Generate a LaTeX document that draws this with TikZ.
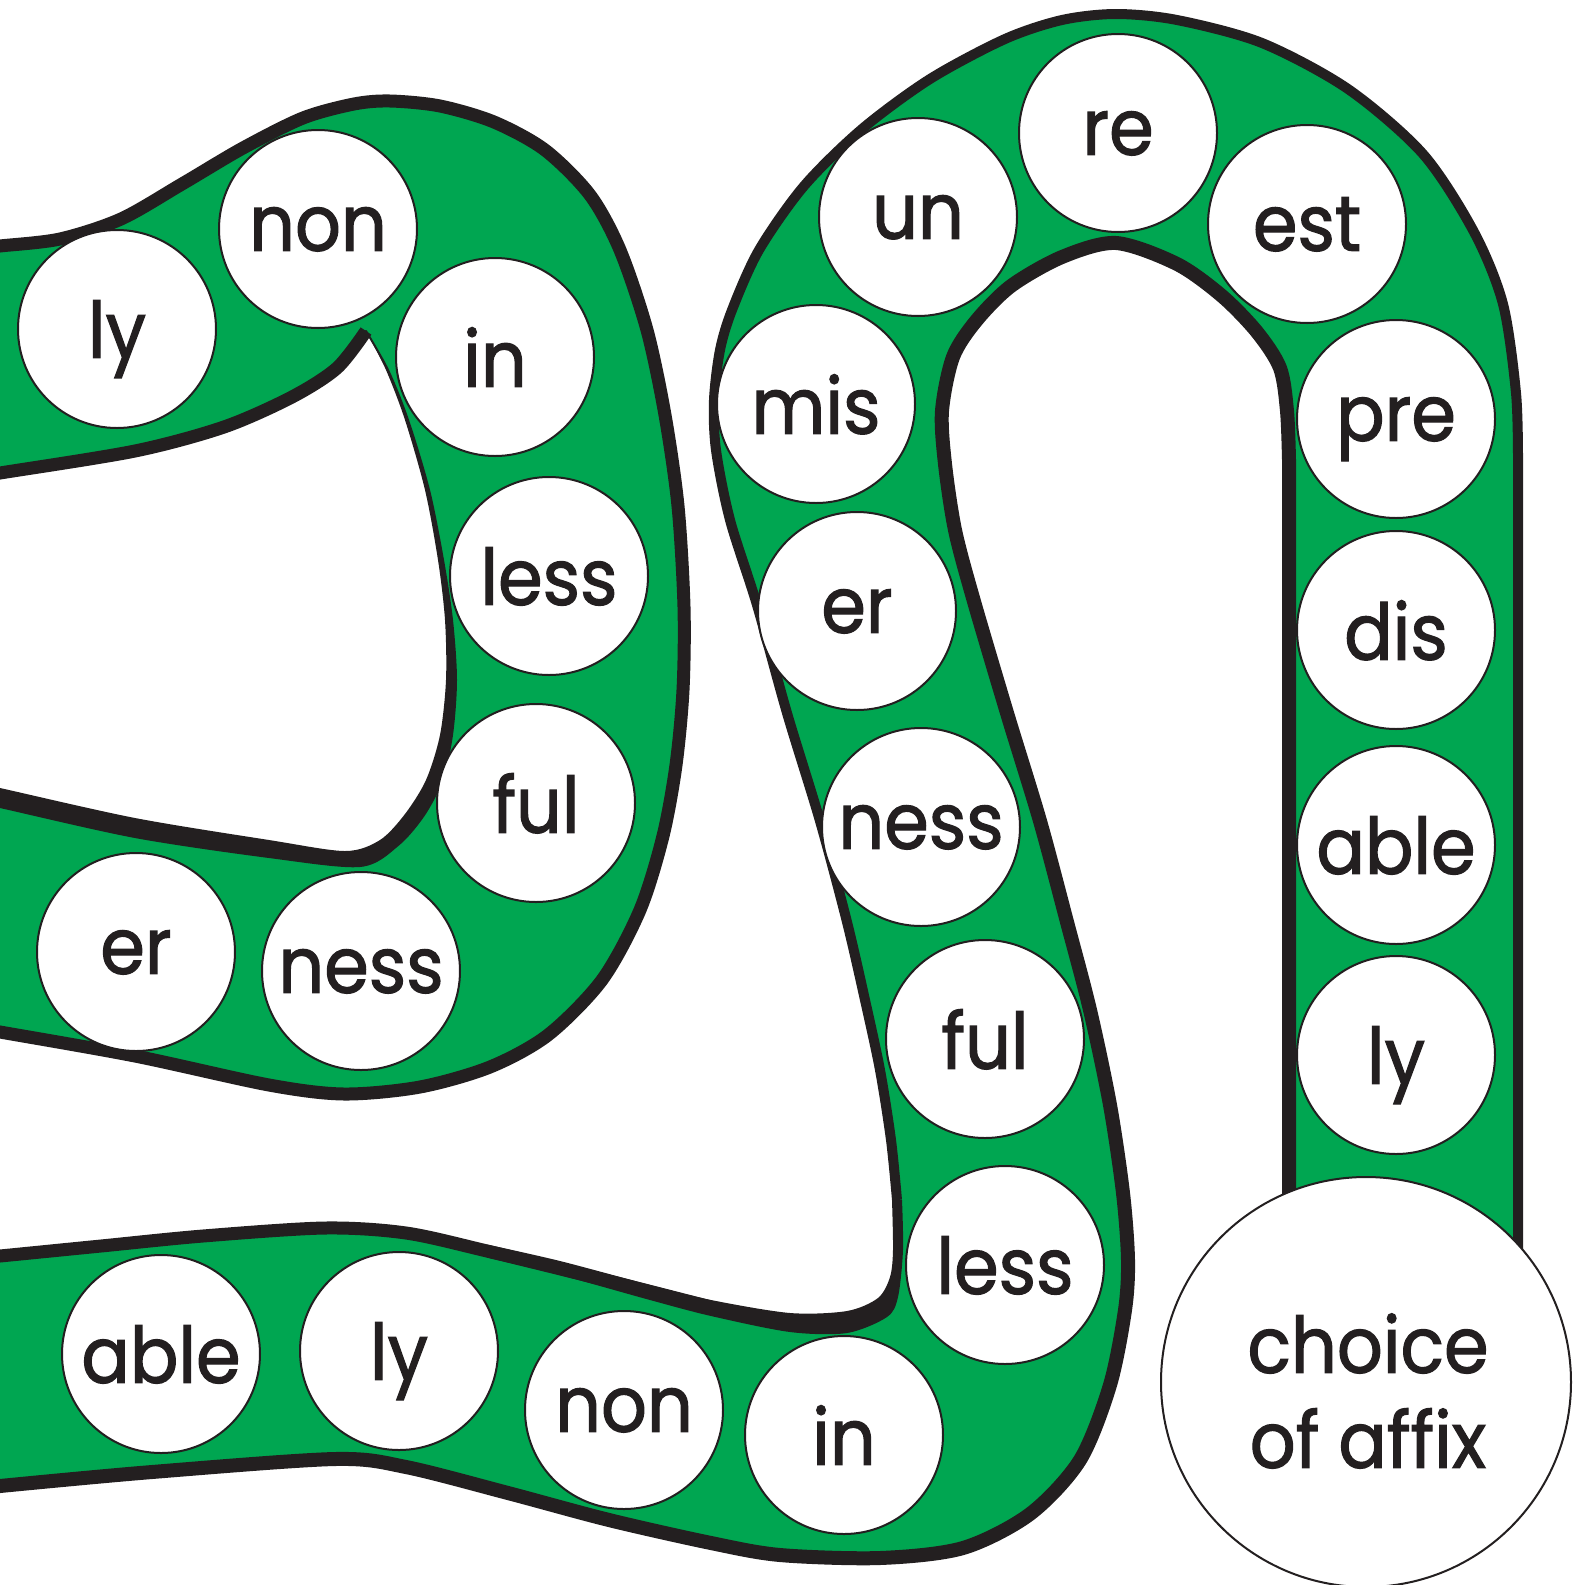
\documentclass[tikz,border=0pt]{standalone}
\usepackage{fontspec}
\newfontfamily\gamefont[FakeStretch=0.92,FakeBold=1.5]{Poppins}
\definecolor{bandgreen}{RGB}{0,166,81}
\definecolor{ink}{RGB}{35,31,32}
\begin{document}
\begin{tikzpicture}[x=1pt,y=-1pt,
  spot/.style={circle, draw=ink, fill=white, line width=2pt, minimum size=198pt, inner sep=0pt,
    font=\gamefont\fontsize{78}{94}\selectfont, text=ink, text depth=0pt},
  band/.style={fill=bandgreen, draw=ink, line width=2pt, line join=round},
  rim/.style={draw=ink, line width=13pt, line join=round, line cap=round}]
\useasboundingbox (0,0) rectangle (1583,1585);
\clip (0,0) rectangle (1583,1585);
% ---------- piece A (upper left loop) ----------
\path[band] plot[smooth] coordinates {(-12,248) (0,246) (60,239) (121,219) (182,184) (243,148) (303,118) (354,104) (390,101) (440,106) (494,122) (545,150) (590,195) (620,250) (647,330) (665,415) (678,506) (684,607) (683,690) (676,765) (663,836) (640,910) (602,980) (548,1035) (490,1067) (420,1087) (344,1094) (269,1085) (135,1056) (0,1032) (-12,1030)}
  -- plot[smooth] coordinates {(-12,805) (0,807) (135,837) (269,857) (360,866) (398,845) (424,815) (442,780) (452,735) (456,680) (452,620) (443,560) (429,490) (408,420) (388,370) (366,331)}
  -- plot[smooth] coordinates {(366,331) (337,368) (292,397) (224,427) (135,451) (0,473) (-12,475)} -- cycle;
\draw[rim] plot[smooth] coordinates {(-12,248) (0,246) (60,239) (121,219) (182,184) (243,148) (303,118) (354,104) (390,101) (440,106) (494,122) (545,150) (590,195) (620,250) (647,330) (665,415) (678,506) (684,607) (683,690) (676,765) (663,836) (640,910) (602,980) (548,1035) (490,1067) (420,1087) (344,1094) (269,1085) (135,1056) (0,1032) (-12,1030)};
\draw[rim, line cap=butt] plot[smooth] coordinates {(-12,475) (0,473) (135,451) (224,427) (292,397) (337,368) (366,331)};
\fill[ink] plot[smooth] coordinates {(-12,786) (0,788) (135,818) (269,840) (345,851) (380,840) (405,814) (426,780) (440,735) (446,680) (445,620) (438,560) (425,490) (405,420) (386,370) (366,331)}
  -- plot[smooth] coordinates {(366,331) (388,370) (408,420) (429,490) (443,560) (452,620) (456,680) (452,735) (442,780) (424,815) (398,845) (360,866) (269,857) (135,837) (0,807) (-12,805)} -- cycle;
% ---------- piece B (long path) ----------
\path[band] plot[smooth] coordinates {(-12,1257) (0,1256) (101,1246) (203,1236) (325,1228) (406,1233) (487,1251) (609,1281) (711,1307) (790,1321) (845,1321) (877,1309) (891,1290) (898,1255) (897,1200) (891,1140) (880,1070) (865,1000) (847,922) (820,821) (787,713) (757,605) (730,520) (716,450) (714,400) (720,350) (732,310) (759,250) (804,186) (862,129) (930,79) (1005,39) (1062,20) (1116,14) (1177,20) (1262,43) (1348,89) (1423,154) (1474,232) (1503,304) (1516,393) (1518,460)}
  -- (1518,1250) -- (1289,1195) -- (1289,460)
  -- plot[smooth] coordinates {(1289,460) (1287,411) (1280,368) (1257,332) (1222,296) (1177,264) (1116,243) (1062,257) (1011,286) (976,321) (953,357) (942,411) (945,464) (955,530) (973,598) (1007,713) (1040,821) (1067,922) (1090,1010) (1110,1105) (1123,1193) (1128,1260) (1125,1310) (1110,1385) (1080,1460) (1030,1514) (963,1548) (880,1558) (780,1555) (711,1543) (609,1520) (508,1493) (406,1467) (335,1459) (152,1472) (0,1486) (-12,1488)} -- cycle;
\draw[rim] plot[smooth] coordinates {(-12,1257) (0,1256) (101,1246) (203,1236) (325,1228) (406,1233) (487,1251) (609,1281) (711,1307)};
\fill[ink] plot[smooth] coordinates {(487,1244.5) (560,1261) (650,1285) (711,1300) (790,1313) (847,1311) (878,1298) (890,1277) (893,1250) (892,1200)}
  -- plot[smooth] coordinates {(902,1200) (903,1250) (898,1297) (887,1317) (847,1333) (790,1332) (711,1316) (650,1300) (560,1275) (487,1257.5)} -- cycle;
\draw[rim, line width=10pt, line cap=butt] plot[smooth] coordinates {(897,1200) (891,1140) (880,1070) (865,1000) (847,922) (820,821) (787,713) (757,605) (730,520) (716,450) (714,400) (720,350) (732,310) (759,250) (804,186) (862,129) (930,79) (1005,39) (1062,20) (1116,14) (1177,20) (1262,43) (1348,89) (1423,154) (1474,232) (1503,304) (1516,393) (1518,460)} -- (1518,1250);
\draw[rim, line width=14pt] (1289,1195) -- (1289,460) -- plot[smooth] coordinates {(1289,460) (1287,411) (1280,368) (1257,332) (1222,296) (1177,264) (1116,243) (1062,257) (1011,286) (976,321) (953,357) (942,411) (945,464) (955,530) (973,598) (1007,713) (1040,821) (1067,922) (1090,1010) (1110,1105) (1123,1193) (1128,1260) (1125,1310) (1110,1385) (1080,1460) (1030,1514) (963,1548) (880,1558) (780,1555) (711,1543) (609,1520) (508,1493) (406,1467) (335,1459) (152,1472) (0,1486) (-12,1488)};
% ---------- spots ----------
\node[spot] (lyA) at (117,329) {ly};
\node[spot] (nonA) at (318,229) {non};
\node[spot] (inA) at (495,357) {in};
\node[spot] (lessA) at (549,576) {less};
\node[spot] (fulA) at (536,803) {ful};
\node[spot] (nessA) at (361,971) {ness};
\node[spot] (erA) at (136,952) {er};
\node[spot] (ableC) at (161,1354) {able};
\node[spot] (lyC) at (399,1351) {ly};
\node[spot] (nonC) at (624,1410) {non};
\node[spot] (inC) at (844,1435) {in};
\node[spot] (lessB) at (1005,1265) {less};
\node[spot] (fulB) at (985,1039) {ful};
\node[spot] (nessB) at (921,827) {ness};
\node[spot] (erB) at (857,611) {er};
\node[spot] (misB) at (816,404) {mis};
\node[spot] (unB) at (918,217) {un};
\node[spot] (reB) at (1118,133) {re};
\node[spot] (estB) at (1307,224) {est};
\node[spot] (preB) at (1396,419) {pre};
\node[spot] (disB) at (1396,630) {dis};
\node[spot] (ableB) at (1396,845) {able};
\node[spot] (lyB) at (1396,1055) {ly};
\node[spot, minimum size=410pt] (choice) at (1366,1382) {};
\node[align=center, inner sep=0pt, text=ink, font=\gamefont\fontsize{78}{95}\selectfont] (choicetext) at (1368,1391) {choice\\of affix};
\end{tikzpicture}
\end{document}
